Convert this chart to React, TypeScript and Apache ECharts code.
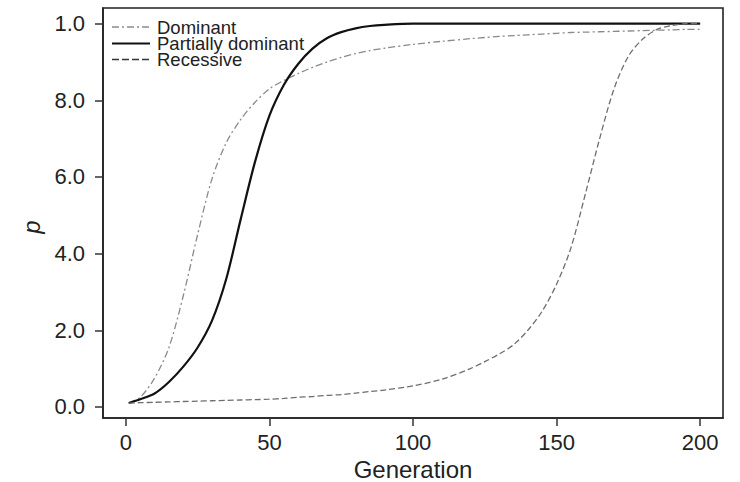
import React, { useEffect, useRef } from "react";
import * as echarts from "echarts";

const generations = [1, 5, 10, 15, 20, 25, 30, 35, 40, 45, 50, 55, 60, 65, 70, 75, 80, 85, 90, 100, 110, 120, 125, 130, 135, 140, 145, 150, 155, 160, 165, 170, 175, 180, 185, 190, 195, 200];
const dominant = [0.01, 0.025, 0.075, 0.155, 0.29, 0.45, 0.595, 0.69, 0.75, 0.795, 0.83, 0.852, 0.87, 0.886, 0.9, 0.912, 0.922, 0.93, 0.936, 0.946, 0.954, 0.961, 0.964, 0.967, 0.969, 0.971, 0.973, 0.975, 0.977, 0.978, 0.979, 0.98, 0.981, 0.982, 0.983, 0.984, 0.985, 0.985];
const partiallyDominant = [0.01, 0.02, 0.035, 0.065, 0.105, 0.155, 0.225, 0.335, 0.49, 0.64, 0.76, 0.84, 0.895, 0.935, 0.962, 0.978, 0.988, 0.994, 0.997, 1.0, 1.0, 1.0, 1.0, 1.0, 1.0, 1.0, 1.0, 1.0, 1.0, 1.0, 1.0, 1.0, 1.0, 1.0, 1.0, 1.0, 1.0, 1.0];
const recessive = [0.01, 0.011, 0.012, 0.013, 0.014, 0.015, 0.016, 0.017, 0.018, 0.019, 0.02, 0.022, 0.025, 0.027, 0.03, 0.032, 0.036, 0.04, 0.044, 0.055, 0.072, 0.1, 0.118, 0.138, 0.162, 0.2, 0.25, 0.32, 0.415, 0.555, 0.7, 0.83, 0.915, 0.96, 0.985, 0.995, 1.0, 1.0];

const xTicks = [0, 50, 100, 150, 200];
const yTicks = [0, 0.2, 0.4, 0.6, 0.8, 1.0];
const yTickLabels = ["0.0", "2.0", "4.0", "6.0", "8.0", "1.0"];
const legendNames = ["Dominant", "Partially dominant", "Recessive"];

const FONT = "Liberation Sans, Arial, Helvetica, sans-serif";

const STYLES = [
  { color: "#8a8a8a", width: 1.3, dash: [7, 3, 2, 3] as number[] | null },
  { color: "#111111", width: 2.2, dash: null as number[] | null },
  { color: "#6e6e6e", width: 1.3, dash: [6, 3] as number[] | null },
];
const LEGEND_STYLES = [
  { color: "#8a8a8a", width: 1.6, dash: [7, 3, 2, 3] as number[] | null },
  { color: "#111111", width: 1.8, dash: null as number[] | null },
  { color: "#333333", width: 1.5, dash: [7, 3] as number[] | null },
];

export default function App() {
  const ref = useRef<HTMLDivElement>(null);
  useEffect(() => {
    document.body.style.margin = "0";
    const chart = echarts.init(ref.current!, null, { renderer: "svg" });
    const pair = (ys: number[]) => generations.map((g, i) => [g, ys[i]]);
    const seriesData = [dominant, partiallyDominant, recessive];
    const legendY = [27, 43.5, 59.5];
    const legendGraphics: any[] = [];
    legendNames.forEach((name, i) => {
      const st = LEGEND_STYLES[i];
      legendGraphics.push({
        type: "line",
        shape: { x1: 112, y1: legendY[i], x2: 150, y2: legendY[i] },
        style: { stroke: st.color, lineWidth: st.width, lineDash: st.dash || undefined },
        silent: true,
      });
      legendGraphics.push({
        type: "text",
        x: 157,
        y: legendY[i],
        style: {
          text: name,
          fontSize: 18.5,
          fontFamily: FONT,
          fill: "#222",
          verticalAlign: "middle",
          align: "left",
        },
        silent: true,
      });
    });
    const tickStyle = { color: "#333", width: 1.5 };
    chart.setOption({
      animation: false,
      backgroundColor: "#ffffff",
      textStyle: { fontFamily: FONT },
      grid: {
        left: 103,
        right: 17,
        top: 8,
        bottom: 64,
        show: true,
        containLabel: false,
        outerBoundsMode: "none",
        borderColor: "#222",
        borderWidth: 1.6,
        backgroundColor: "transparent",
      },
      graphic: legendGraphics,
      xAxis: {
        type: "value",
        min: -7.96,
        max: 207.96,
        name: "Generation",
        nameLocation: "middle",
        nameGap: 37,
        nameTextStyle: { fontSize: 24, color: "#222", fontFamily: FONT },
        axisLine: { show: true, onZero: false, lineStyle: { color: "#222", width: 1.6 } },
        splitLine: { show: false },
        axisTick: { show: true, inside: false, customValues: xTicks, length: 8, lineStyle: tickStyle },
        axisLabel: { customValues: xTicks, fontSize: 22, color: "#222", margin: 13, fontFamily: FONT },
      },
      yAxis: {
        type: "value",
        min: -0.029,
        max: 1.041,
        name: "p",
        nameLocation: "middle",
        nameRotate: 90,
        nameGap: 60,
        nameTextStyle: { fontSize: 24, fontStyle: "italic", color: "#222", fontFamily: FONT, padding: [0, 28, 0, 0] },
        axisLine: { show: true, onZero: false, lineStyle: { color: "#222", width: 1.6 } },
        splitLine: { show: false },
        axisTick: { show: true, inside: false, customValues: yTicks, length: 8, lineStyle: tickStyle },
        axisLabel: {
          customValues: yTicks,
          fontSize: 22,
          color: "#222",
          margin: 18,
          fontFamily: FONT,
          formatter: (v: number) => {
            const idx = yTicks.findIndex((t) => Math.abs(t - v) < 1e-6);
            return idx >= 0 ? yTickLabels[idx] : "";
          },
        },
      },
      series: legendNames.map((name, i) => ({
        name,
        type: "line",
        symbol: "none",
        smooth: 0.3,
        data: pair(seriesData[i]),
        lineStyle: { color: STYLES[i].color, width: STYLES[i].width, type: STYLES[i].dash || "solid" },
        itemStyle: { color: STYLES[i].color },
      })),
    });
    return () => chart.dispose();
  }, []);
  return <div ref={ref} style={{ width: 740, height: 482 }} />;
}
